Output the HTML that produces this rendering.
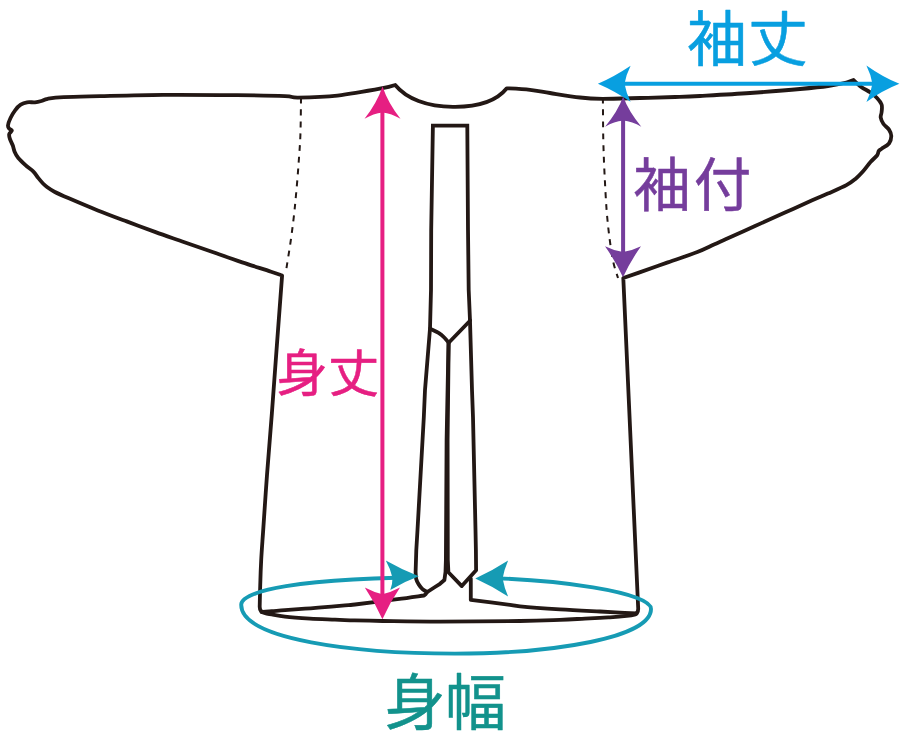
<!DOCTYPE html>
<html lang="ja">
<head>
<meta charset="utf-8">
<title>サイズガイド</title>
<style>
html,body{margin:0;padding:0;background:#fff;}
body{width:900px;height:754px;overflow:hidden;}
svg{display:block;}
.k{fill:none;stroke:#231815;stroke-width:3.8;stroke-linejoin:round;stroke-linecap:round;}
.m{stroke-linejoin:miter;stroke-linecap:butt;}
.d{fill:none;stroke:#231815;stroke-width:2;stroke-dasharray:5.9 5.9;stroke-dashoffset:1.2;}
text{font-family:"Liberation Sans","Noto Sans CJK JP",sans-serif;font-weight:400;stroke-width:0.5;stroke-linejoin:round;}
</style>
</head>
<body>
<svg width="900" height="754" viewBox="0 0 900 754">
<rect width="900" height="754" fill="#fff"/>
<path class="k" d="M282.1,275.5 C280.3,274.9 277.8,273.9 271.1,271.7 C264.5,269.5 251.8,265.6 242.2,262.4 C232.6,259.2 222.9,255.7 213.3,252.3 C203.7,248.9 194,245.6 184.4,242.2 C174.8,238.8 165.2,235.6 155.6,232.1 C146,228.6 136.3,225 126.7,221.4 C117.1,217.8 107.4,214.2 97.8,210.4 C88.2,206.6 76.1,201.4 68.9,198.3 C61.7,195.2 58,193.6 54.4,191.7 C50.8,189.8 48.9,188.4 47,187 C45.1,185.6 44.5,185 43,183.5 C41.5,182 39.8,179.9 38.2,177.9 C36.6,175.9 35.5,173.7 33.4,171.6 C31.3,169.5 28,167.5 25.5,165.2 C23,162.9 20.1,160.2 18.3,158 C16.5,155.8 15.5,153.8 14.6,151.7 C13.7,149.6 13.5,147.4 12.7,145.3 C11.9,143.2 10.5,140.8 9.9,138.9 C9.3,137 8.9,135.5 9.2,134.1 C9.5,132.7 11.9,131.5 11.9,130.6 C11.9,129.7 9.8,129.5 9.2,128.6 C8.5,127.7 7.8,127.1 8,125.4 C8.2,123.7 9.2,120.7 10.4,118.2 C11.6,115.7 13.4,112.5 15.1,110.3 C16.8,108 18.7,106 20.7,104.7 C22.7,103.4 24.7,102.7 27.1,102.3 C29.5,101.9 32.6,102.5 35,102.3 C37.4,102.1 39.3,101.6 41.4,101 C43.5,100.4 44.1,99.4 47.8,98.8 C51.5,98.2 55,97.6 63.7,97.2 C72.4,96.8 83.5,96.6 100,96.2 C116.5,95.8 140.2,95.1 163,94.9 C185.8,94.7 216.7,95 237,95.2 C257.3,95.4 274.8,95.7 285,96.1 C295.2,96.5 289.2,97.7 298,97.6 C306.8,97.5 323.4,97.2 337.5,95.6 C351.6,94 372.9,90 382.5,88.2 C392.1,86.4 393.1,85.5 395.2,85 C406.3,98.6 427,106.8 453,106.8 C480,107.2 497,100.5 506.8,88.3 C510.7,88.5 522.8,89 530,89.8 C537.2,90.6 541.7,91.7 550,93 C558.3,94.3 571.2,96.5 580,97.5 C588.8,98.5 592.5,98.7 602.5,98.8 C612.5,98.8 627.9,98.3 640,98 C652.1,97.7 665,97.3 675,97 C685,96.7 687.5,96.7 700,96 C712.5,95.3 733.3,94.2 750,93 C766.7,91.8 787,90.2 800,89 C813,87.8 820.3,87.1 828,86 C835.7,84.9 842.2,83.5 846.4,82.5 C850.6,81.5 852.2,80.4 853.4,80 C854.7,81.2 858.4,84.8 861.2,86.9 C864.1,89 867.9,90.7 870.5,92.5 C873.1,94.3 875.1,96 877,98 C878.9,100 880.8,102.2 881.6,104.5 C882.4,106.8 881.8,109.8 881.6,112 C881.5,114.2 880.4,115.5 880.7,117.5 C881,119.5 882.1,122 883.5,124 C884.9,126 887.7,127.6 889,129.6 C890.3,131.6 891.3,133.8 891.3,136.1 C891.3,138.4 890.6,141.4 889,143.5 C887.4,145.6 883.3,147.5 881.6,148.7 C879.9,149.9 879.6,149.8 878.8,150.9 C878,152 878.4,153.7 877,155.5 C875.6,157.3 872.8,159.4 870.5,162 C868.2,164.6 865.6,168.5 863.1,171.3 C860.6,174.1 858.5,176.4 855.7,178.7 C852.9,181 851,182.7 846.4,185.2 C841.8,187.7 833.5,191.1 827.8,193.6 C822.1,196.1 819.6,197 812.2,200.3 C804.8,203.6 792.9,209 783.3,213.3 C773.7,217.6 764.1,222 754.5,226.3 C744.9,230.6 732.4,236.3 725.6,239.3 C718.9,242.3 718.8,242.3 714,244.5 C709.2,246.7 704.4,249.3 696.7,252.3 C689,255.3 677.4,259 667.8,262.4 C658.2,265.8 646.3,270 638.9,272.6 C631.5,275.2 625.9,277.1 623.3,278 L638.2,608.5 Q638.4,614.3 632.5,615.1 C631.5,615.2 630.5,615.5 626.7,615.9 C623,616.3 614.5,617 610,617.3 C605.5,617.6 604.2,617.7 600,617.9 C595.8,618.1 591.7,618.3 585,618.6 C578.3,618.9 570.8,619.4 560,619.8 C549.2,620.2 540,620.7 520,621 C500,621.3 462.9,621.6 440,621.6 C417.1,621.6 397.5,621.2 382.5,621 C367.5,620.8 357.9,620.5 350,620.3 C342.1,620.1 341.7,620 335,619.7 C328.3,619.4 318.3,619.1 310,618.6 C301.7,618.1 291.4,617.4 285,616.7 C278.6,616 275,615.1 271.7,614.5 C268.4,613.9 266.1,613.4 265,613.2 Q259.6,612.1 259.7,606.5 C259.8,602.1 260.1,587.8 260.4,580 C260.6,572.2 260.8,567.8 261.2,560 C261.6,552.2 262,547.2 263,533 C264,518.8 265.5,495 267,475 C268.5,455 270.2,434.7 271.9,413 C273.5,391.3 275.2,367.9 276.9,345 C278.6,322.1 281.2,287.1 282.1,275.5 Z"/>
<path class="k" d="M261.5,612.1 C263.2,612 267.8,611.5 271.7,611.2 C275.6,610.9 279.4,610.5 285,610.1 C290.6,609.7 299.4,609.1 305,608.7 C310.6,608.3 311.6,608.2 318.3,607.7 C325,607.2 338.9,605.9 345,605.4 C351.1,604.9 346.3,605.5 355,604.5 C363.7,603.5 385.9,600.7 397.4,599.2 C408.9,597.7 419.6,596.1 424,595.5 L425.8,594 L427.3,591.8"/>
<path class="k" d="M636.5,613.5 C633.8,613.4 626.1,612.9 620,612.6 C613.9,612.3 610,612 600,611.5 C590,611 573.3,610.3 560,609.4 C546.7,608.5 528.3,607.1 520,606.3 C511.7,605.5 518.2,605.9 510,604.8 C501.8,603.7 477.3,600.7 470.8,599.9 L470.8,578.6"/>
<path class="k m" d="M430,328.7 L431,290 L431.2,230 L432.9,125.6 L467.3,125.6 L468,230 L468.7,290 L470,320.5"/>
<path class="k" d="M430.6,329 C432.1,329.7 437,331.8 439.3,333.3 C441.6,334.8 443.1,336.4 444.7,338 C446.3,339.6 448,341.9 448.7,342.7 L470,320.7"/>
<path class="k" d="M430,328.7 L425,390 L423.8,417.5 L417.5,530 L416.3,550 L415.6,572 C415.7,573.2 415.7,576.9 416.2,579 C416.7,581.1 417.6,582.7 418.7,584.4 C419.8,586.1 421.1,587.9 422.5,589.2 C423.9,590.5 426.5,591.5 427.3,592 L435,587 L440,583.8 L444.4,580 L445.5,572 L445.9,560 L446.6,440 L448.5,343"/>
<path class="k" d="M448.7,342.7 L447.6,440 L447.8,560 L448.4,572.3 L461.8,586.1 L476.1,570.2 L475.9,550 L475.5,530 L473,417.5 L472,390 L470,320.7"/>
<path class="d" d="M301,99 C300.9,105 300.8,123.8 300.4,135 C300,146.2 299.1,156 298.4,166 C297.7,176 296.8,186.7 296,195 C295.2,203.3 294.8,208.3 293.9,216 C293,223.7 292,232 290.7,241 C289.4,250 286.9,265.2 286.2,270"/>
<path class="d" d="M602.9,99 C603,105.8 603,127.3 603.3,140 C603.6,152.7 604,163.3 604.6,175 C605.2,186.7 605.8,199.5 606.6,210 C607.4,220.5 608.4,229.3 609.5,238 C610.6,246.7 611.9,255.3 613.3,262 C614.7,268.7 617.2,275.3 618,278"/>
<clipPath id="gap"><path clip-rule="evenodd" d="M0,0H900V754H0Z M394,566H501V592H394Z"/></clipPath>
<path clip-path="url(#gap)" fill="none" stroke="#169bb4" stroke-width="3.9" d="M241.2,604.7 C241.2,639.9 356.7,653.6 455,653.6 C555,653.6 651,637.5 651,608.9 C651,593.6 564.7,577.3 446,577.3 C292.5,577.3 241.2,591.9 241.2,604.7 Z"/>
<path fill="#169bb4" d="M418.8,576.3 Q401.7,569.7 385.8,560.6 Q390.3,568.7 392.5,577.7 Q392.6,584 390.3,589.9 Q403.9,581.8 418.8,576.3 Z"/>
<path fill="#169bb4" d="M475.3,578.4 Q491.7,571 508.1,560.4 Q504.2,569.4 502.6,578.4 Q504.2,587.4 508.1,596.4 Q491.7,585.8 475.3,578.4 Z"/>
<text x="384.6" y="725.1" font-size="61" letter-spacing="-0.6" fill="#12928c" stroke="#12928c">身幅</text>
<rect x="621.1" y="118" width="4" height="138" fill="#753d9c"/>
<path fill="#753d9c" d="M623.2,96.6 Q628.6,111.6 641.3,126.7 Q632.2,121.6 623.2,120.6 Q614.2,121.6 605.1,126.7 Q617.8,111.6 623.2,96.6 Z"/>
<path fill="#753d9c" d="M623,277.3 Q616,261.8 605,246.2 Q614,250.7 623,251.9 Q632,250.7 641,246.2 Q630,261.8 623,277.3 Z"/>
<text x="633.2" y="205.6" font-size="57.5" letter-spacing="3" fill="#753d9c" stroke="#753d9c">袖付</text>
<rect x="622" y="81.75" width="254" height="4" fill="#089fe0"/>
<path fill="#089fe0" d="M597.9,83.7 Q614.2,76.7 630.6,65.7 Q626.1,74.7 624.5,83.7 Q626.1,92.7 630.6,101.7 Q614.2,90.7 597.9,83.7 Z"/>
<path fill="#089fe0" d="M899.4,83.8 Q882.9,90.2 866.4,102 Q871,92.8 872.4,83.8 Q871,74.7 866.4,65.5 Q882.9,77.2 899.4,83.8 Z"/>
<text x="686.9" y="61.4" font-size="60" letter-spacing="1" fill="#089fe0" stroke="#089fe0">袖丈</text>
<rect x="380.4" y="108" width="4" height="490" fill="#e61f82"/>
<path fill="#e61f82" d="M382.5,86.4 Q387.9,102.6 400.5,118.8 Q391.5,113.7 382.5,112.6 Q373.5,113.7 364.5,118.8 Q377.1,102.6 382.5,86.4 Z"/>
<path fill="#e61f82" d="M382.4,619.2 Q375.4,603.4 364.8,587.6 Q373.6,592.3 382.4,594.2 Q391.2,592.3 400,587.6 Q389.4,603.4 382.4,619.2 Z"/>
<text x="276.6" y="391.6" font-size="51.3" letter-spacing="0" fill="#e61f82" stroke="#e61f82">身丈</text>
</svg>
</body>
</html>
